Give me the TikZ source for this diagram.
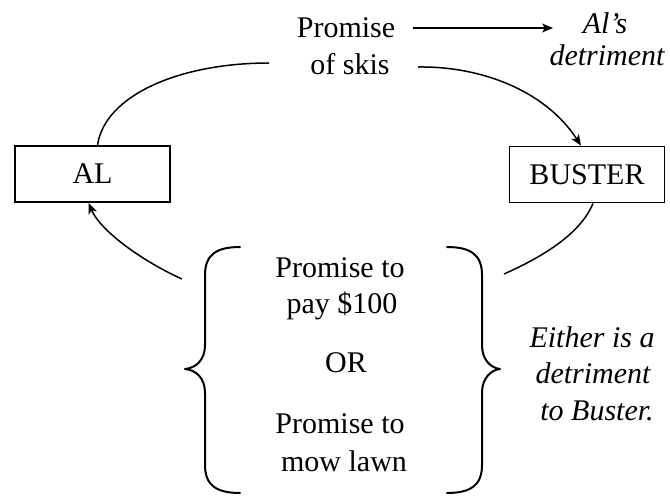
\documentclass[tikz,border=0pt]{standalone}
\usepackage{fontspec}
\setmainfont{Liberation Serif}
\usetikzlibrary{arrows.meta,calc}
\tikzset{
  txt/.style={anchor=base, inner sep=0pt, font=\fontsize{30}{37}\selectfont},
  itxt/.style={txt, font=\fontsize{30}{37}\selectfont\itshape},
  party/.style={draw, line width=1.8pt, minimum width=155pt, minimum height=56pt, inner sep=0pt, font=\fontsize{30}{37}\selectfont},
  conn/.style={line width=1.5pt},
  arr/.style={conn, -{Stealth[length=11pt,width=9pt,inset=3pt]}},
  brace/.style={line width=2pt, line join=round, line cap=round}
}
\begin{document}
\begin{tikzpicture}[x=1pt,y=-1pt]
\useasboundingbox (0,0) rectangle (670,496);
% top labels
\node[txt] (p1) at (346,37) {Promise};
\node[txt] (p2) at (350,74) {of skis};
\node[itxt] (als) at (605,33) {Al’s};
\node[itxt] (det) at (607,65) {detriment};
% boxes
\node[party] (AL) at (92.5,174) {AL};
\node[party] (BU) at (587,174.5) {BUSTER};
% middle text
\node[txt] (m1) at (340,277) {Promise to};
\node[txt] (m2) at (342,313) {pay \$100};
\node[txt] (m3) at (346,372) {OR};
\node[txt] (m4) at (340,433) {Promise to};
\node[txt] (m5) at (344,471) {mow lawn};
% right italic
\node[itxt] (e1) at (592,347) {Either is a};
\node[itxt] (e2) at (593,383) {detriment};
\node[itxt] (e3) at (597,420) {to Buster.};
% coordinates for connector ends
\coordinate (aS) at (413,28);
\coordinate (aE) at (553,28);
\coordinate (tl) at (269,63);
\coordinate (tr) at (418,67);
\coordinate (bl) at (182,279);
\coordinate (br) at (504,274);
% connectors
\draw[arr] (aS) -- (aE);
\draw[conn] (tl) .. controls (180,63) and (105,95) .. ([xshift=5pt]AL.north);
\draw[arr] (tr) .. controls (480,66) and (545,90) .. ([xshift=-6pt]BU.north);
\draw[arr] (bl) .. controls (140,260) and (100,230) .. ([xshift=-4pt]AL.south);
\draw[conn] ([xshift=6pt]BU.south) .. controls (580,235) and (540,258) .. (br);
% braces
\draw[brace] (240,247) .. controls (216,247) and (205,255) .. (205,275) -- (205,345)
  .. controls (205,360) and (196,368) .. (185,369)
  .. controls (196,370) and (205,378) .. (205,393) -- (205,465)
  .. controls (205,485) and (216,493) .. (240,493);
\draw[brace] (447,247) .. controls (471,247) and (482,255) .. (482,275) -- (482,345)
  .. controls (482,360) and (491,368) .. (500,369)
  .. controls (491,370) and (482,378) .. (482,393) -- (482,465)
  .. controls (482,485) and (471,493) .. (447,493);
\end{tikzpicture}
\end{document}
